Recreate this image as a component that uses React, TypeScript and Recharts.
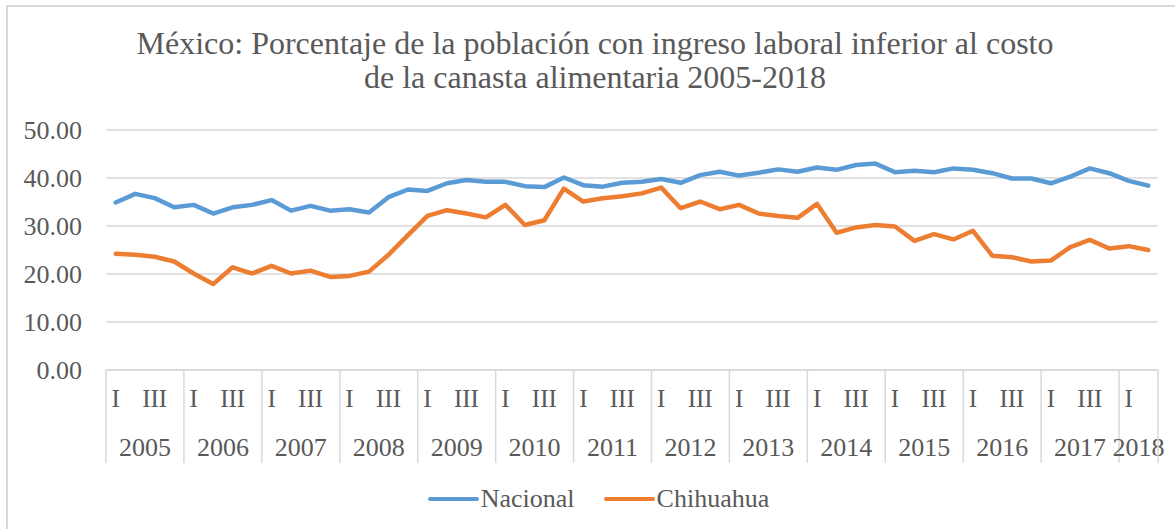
import React from "react";
import {
  LineChart,
  Line,
  XAxis,
  YAxis,
  CartesianGrid,
  Legend,
} from "recharts";

// quarterly series, 2005-I .. 2018-II
const years = [
  2005, 2005, 2005, 2005, 2006, 2006, 2006, 2006, 2007, 2007, 2007, 2007,
  2008, 2008, 2008, 2008, 2009, 2009, 2009, 2009, 2010, 2010, 2010, 2010,
  2011, 2011, 2011, 2011, 2012, 2012, 2012, 2012, 2013, 2013, 2013, 2013,
  2014, 2014, 2014, 2014, 2015, 2015, 2015, 2015, 2016, 2016, 2016, 2016,
  2017, 2017, 2017, 2017, 2018, 2018,
];
const quarters = years.map((_, i) => ["I", "II", "III", "IV"][i % 4]);

const nacional = [
  34.9, 36.7, 35.8, 33.9, 34.4, 32.6, 33.9, 34.4, 35.4, 33.2, 34.2, 33.2,
  33.5, 32.8, 36.0, 37.6, 37.3, 38.9, 39.6, 39.2, 39.2, 38.3, 38.1, 40.1,
  38.5, 38.2, 39.0, 39.2, 39.8, 39.0, 40.6, 41.3, 40.5, 41.1, 41.8, 41.3,
  42.2, 41.7, 42.7, 43.0, 41.2, 41.5, 41.2, 42.0, 41.7, 41.0, 39.9, 39.9,
  38.9, 40.3, 42.0, 41.0, 39.4, 38.4,
];
const chihuahua = [
  24.2, 24.0, 23.6, 22.6, 20.1, 17.9, 21.4, 20.1, 21.7, 20.1, 20.7, 19.4,
  19.6, 20.5, 24.0, 28.1, 32.1, 33.3, 32.6, 31.8, 34.4, 30.2, 31.2, 37.8,
  35.1, 35.8, 36.2, 36.8, 38.0, 33.7, 35.1, 33.5, 34.4, 32.6, 32.1, 31.7,
  34.6, 28.6, 29.7, 30.2, 29.9, 26.9, 28.3, 27.2, 29.0, 23.8, 23.5, 22.6,
  22.8, 25.6, 27.1, 25.3, 25.8, 25.0,
];
const yTicks = [0, 10, 20, 30, 40, 50];

const keys = years.map((y, i) => `${y}-${quarters[i]}`);
const data = keys.map((key, i) => ({
  key,
  nacional: nacional[i],
  chihuahua: chihuahua[i],
}));

const W = 1175;
const H = 529;
const PLOT_LEFT = 106;
const PLOT_RIGHT = 1158;
const PLOT_TOP = 130;
const PLOT_BOTTOM = 370;
const step = (PLOT_RIGHT - PLOT_LEFT) / keys.length;

const FONT = '"Liberation Serif", "Times New Roman", serif';
const TEXT = "#595959";
const GRID = "#d9d9d9";
const BLUE = "#5B9BD5";
const ORANGE = "#ED7D31";

function XTick(props: any) {
  const { x, y, payload } = props;
  const i = keys.indexOf(payload.value);
  if (i < 0) return null;
  const q = quarters[i];
  const yr = years[i];
  const parts: React.ReactNode[] = [];
  if (q === "I" || q === "III") {
    parts.push(
      <text key="q" x={x} y={y + 37} textAnchor="middle" fill={TEXT} fontSize={25} fontFamily={FONT}>
        {q}
      </text>
    );
  }
  if (q === "I") {
    const n = years.filter((v) => v === yr).length;
    const left = x - step / 2;
    parts.push(<line key="s" x1={left} x2={left} y1={y} y2={y + 93} stroke={GRID} strokeWidth={1.5} />);
    parts.push(
      <text key="y" x={left + (n * step) / 2} y={y + 86} textAnchor="middle" fill={TEXT} fontSize={26} fontFamily={FONT}>
        {yr}
      </text>
    );
  }
  if (i === keys.length - 1) {
    const right = x + step / 2;
    parts.push(<line key="e" x1={right} x2={right} y1={y} y2={y + 93} stroke={GRID} strokeWidth={1.5} />);
  }
  return <g>{parts}</g>;
}

function LegendContent() {
  const items = [
    { name: "Nacional", color: BLUE },
    { name: "Chihuahua", color: ORANGE },
  ];
  return (
    <div style={{ display: "flex", justifyContent: "center", alignItems: "center", paddingLeft: 22, fontFamily: FONT }}>
      {items.map((it, k) => (
        <div key={it.name} style={{ display: "flex", alignItems: "center", marginLeft: k ? 29 : 0 }}>
          <span style={{ display: "inline-block", width: 51, height: 4, borderRadius: 2, background: it.color, marginRight: 2 }} />
          <span style={{ fontSize: 26, color: TEXT, lineHeight: "30px" }}>{it.name}</span>
        </div>
      ))}
    </div>
  );
}

export default function App() {
  return (
    <div style={{ position: "absolute", left: 0, top: 0, width: W, height: H, background: "#fff", overflow: "hidden" }}>
      <div style={{ position: "absolute", left: 6, top: 5, width: 1300, height: 700, border: `2px solid ${GRID}` }} />
      <div
        style={{
          position: "absolute",
          left: 0,
          top: 26,
          width: 1190,
          textAlign: "center",
          fontFamily: FONT,
          fontSize: 32,
          lineHeight: "34px",
          color: TEXT,
        }}
      >
        México: Porcentaje de la población con ingreso laboral inferior al costo
        <br />
        de la canasta alimentaria 2005-2018
      </div>
      <div style={{ position: "absolute", left: 0, top: 0 }}>
        <LineChart
          width={W}
          height={H}
          data={data}
          margin={{ top: PLOT_TOP, right: W - PLOT_RIGHT, left: 0, bottom: 0 }}
        >
          <CartesianGrid vertical={false} stroke={GRID} strokeWidth={1.5} />
          <XAxis
            dataKey="key"
            interval={0}
            tickLine={false}
            tickSize={0}
            tickMargin={0}
            height={H - PLOT_BOTTOM}
            padding={{ left: step / 2, right: step / 2 }}
            axisLine={{ stroke: GRID, strokeWidth: 1.5 }}
            tick={<XTick />}
          />
          <YAxis
            width={PLOT_LEFT}
            domain={[0, 50]}
            ticks={yTicks}
            tickFormatter={(v: number) => v.toFixed(2)}
            axisLine={false}
            tickLine={false}
            tickSize={0}
            tickMargin={24}
            tick={{ fill: TEXT, fontSize: 26, fontFamily: FONT }}
          />
          <Legend
            verticalAlign="middle"
            align="center"
            layout="horizontal"
            content={<LegendContent />}
            wrapperStyle={{ top: 484, left: 0, width: W }}
          />
          <Line
            type="linear"
            dataKey="nacional"
            name="Nacional"
            stroke={BLUE}
            strokeWidth={4.5}
            strokeLinejoin="round"
            strokeLinecap="round"
            dot={false}
            isAnimationActive={false}
          />
          <Line
            type="linear"
            dataKey="chihuahua"
            name="Chihuahua"
            stroke={ORANGE}
            strokeWidth={4.5}
            strokeLinejoin="round"
            strokeLinecap="round"
            dot={false}
            isAnimationActive={false}
          />
        </LineChart>
      </div>
    </div>
  );
}
